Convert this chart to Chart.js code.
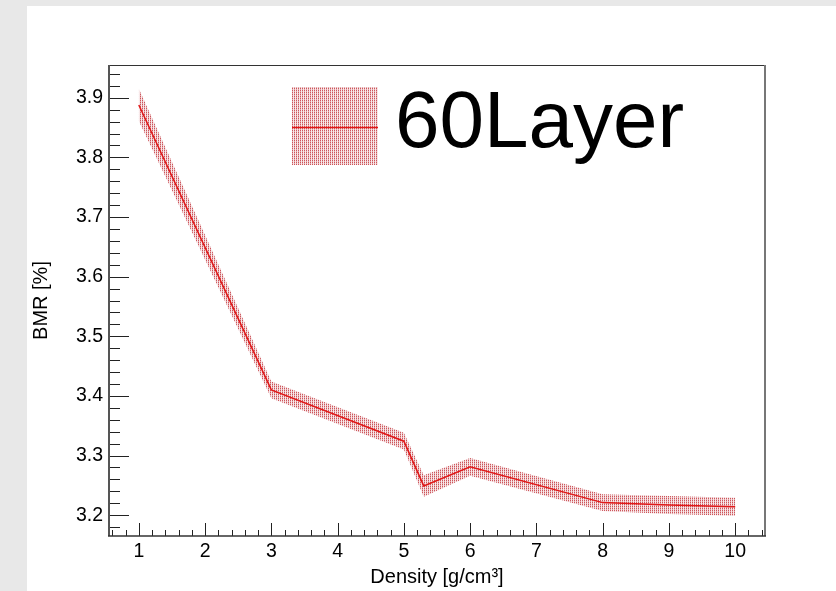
<!DOCTYPE html>
<html>
<head>
<meta charset="utf-8">
<script src="https://cdn.jsdelivr.net/npm/chart.js@4.4.0/dist/chart.umd.min.js"></script>
<style>
    html, body { margin: 0; padding: 0; background: #e8e8e8; }
    #chart { display: block; }
</style>
</head>
<body>
<canvas id="chart" width="836" height="591"></canvas>
<script>
// values
const densities = [1, 3, 5, 5.3, 6, 8, 9, 10];
const bmrValues = [3.888, 3.410, 3.324, 3.249, 3.281, 3.221, 3.217, 3.214];
const bmrErrors = [0.027, 0.014, 0.014, 0.018, 0.015, 0.014, 0.015, 0.015];
const xTicks = [1, 2, 3, 4, 5, 6, 7, 8, 9, 10];
const yTicks = [3.2, 3.3, 3.4, 3.5, 3.6, 3.7, 3.8, 3.9];
const legendLabel = "60Layer";

const FONT = "'Liberation Sans', Arial, Helvetica, sans-serif";
const canvas = document.getElementById("chart");
const ctx = canvas.getContext("2d");

// ROOT-like dotted fill
function makeHatch() {
    const c = document.createElement("canvas");
    c.width = 2;
    c.height = 2;
    const g = c.getContext("2d");
    g.fillStyle = "rgb(248,232,233)";
    g.fillRect(0, 0, 2, 2);
    g.fillStyle = "rgb(206,84,90)";
    g.fillRect(0, 0, 1, 1);
    g.fillStyle = "rgb(228,172,175)";
    g.fillRect(0, 1, 1, 1);
    return ctx.createPattern(c, "repeat");
}
const hatch = makeHatch();

const upper = densities.map((x, i) => ({ x: x, y: bmrValues[i] + bmrErrors[i] }));
const lower = densities.map((x, i) => ({ x: x, y: bmrValues[i] - bmrErrors[i] }));
const centre = densities.map((x, i) => ({ x: x, y: bmrValues[i] }));

// grey pad border + white canvas
const padBackground = {
    id: "padBackground",
    beforeDraw(chart) {
        const c = chart.ctx;
        c.save();
        c.fillStyle = "#e8e8e8";
        c.fillRect(0, 0, chart.width, chart.height);
        c.fillStyle = "#ffffff";
        c.fillRect(27, 6, chart.width - 27, chart.height - 6);
        c.restore();
    }
};

// frame and inward ticks, like ROOT
const rootAxes = {
    id: "rootAxes",
    afterDatasetsDraw(chart) {
        const c = chart.ctx;
        const a = chart.chartArea;
        const x = chart.scales.x;
        const y = chart.scales.y;
        c.save();
        c.strokeStyle = "#222";
        c.lineWidth = 1;
        c.beginPath();
        for (let k = 159; k <= 197; k++) {
            const p = Math.round(y.getPixelForValue(k * 0.02)) + 0.5;
            const len = k % 5 === 0 ? 20 : 11;
            c.moveTo(a.left, p);
            c.lineTo(a.left + len, p);
        }
        for (let k = 3; k <= 52; k++) {
            const p = Math.round(x.getPixelForValue(k * 0.2)) + 0.5;
            const len = k % 5 === 0 ? 13 : 6;
            c.moveTo(p, a.bottom);
            c.lineTo(p, a.bottom - len);
        }
        c.stroke();

        // frame
        c.strokeStyle = "#333";
        c.lineWidth = 1;
        c.beginPath();
        c.moveTo(a.left, a.top + 0.5);
        c.lineTo(a.right, a.top + 0.5);
        c.stroke();
        c.strokeStyle = "#777";
        c.lineWidth = 2;
        c.beginPath();
        c.moveTo(a.right, a.top);
        c.lineTo(a.right, a.bottom);
        c.stroke();
        c.strokeStyle = "#555";
        c.beginPath();
        c.moveTo(a.left, a.top);
        c.lineTo(a.left, a.bottom);
        c.stroke();
        c.strokeStyle = "#333";
        c.lineWidth = 1.5;
        c.beginPath();
        c.moveTo(a.left - 1, a.bottom);
        c.lineTo(a.right + 1, a.bottom);
        c.stroke();
        c.restore();
    }
};

// big legend entry
const bigLegend = {
    id: "bigLegend",
    afterDraw(chart) {
        const c = chart.ctx;
        c.save();
        c.fillStyle = hatch;
        c.fillRect(292, 87, 86, 78);
        c.strokeStyle = "#e01818";
        c.lineWidth = 1.5;
        c.beginPath();
        c.moveTo(292, 127.5);
        c.lineTo(378, 127.5);
        c.stroke();
        c.fillStyle = "#000";
        c.font = "80px " + FONT;
        c.textBaseline = "alphabetic";
        c.textAlign = "left";
        c.fillText(legendLabel, 395, 147);
        c.restore();
    }
};

new Chart(ctx, {
    type: "line",
    data: {
        datasets: [
            {
                label: legendLabel,
                data: centre,
                borderColor: "#e01818",
                borderWidth: 1.5,
                pointRadius: 0,
                tension: 0,
                fill: false
            },
            {
                label: "upper",
                data: upper,
                borderColor: "transparent",
                borderWidth: 0,
                pointRadius: 0,
                tension: 0,
                fill: "+1",
                backgroundColor: hatch
            },
            {
                label: "lower",
                data: lower,
                borderColor: "transparent",
                borderWidth: 0,
                pointRadius: 0,
                tension: 0,
                fill: false
            }
        ]
    },
    options: {
        responsive: false,
        animation: false,
        layout: { padding: { top: 65, right: 71, left: 0, bottom: 0 } },
        plugins: {
            legend: { display: false },
            tooltip: { enabled: false }
        },
        scales: {
            x: {
                type: "linear",
                min: 0.55,
                max: 10.45,
                grid: { display: false, drawTicks: false, tickLength: 0 },
                border: { display: false },
                afterBuildTicks: s => { s.ticks = xTicks.map(v => ({ value: v })); },
                afterFit: s => { s.height = 55; },
                ticks: {
                    color: "#000",
                    font: { family: FONT, size: 19.5 },
                    padding: 4,
                    maxRotation: 0,
                    autoSkip: false
                },
                title: {
                    display: true,
                    text: "Density [g/cm³]",
                    color: "#000",
                    font: { family: FONT, size: 20 },
                    padding: { top: 0, bottom: 1.5 }
                }
            },
            y: {
                type: "linear",
                min: 3.165,
                max: 3.955,
                grid: { display: false, drawTicks: false, tickLength: 0 },
                border: { display: false },
                afterBuildTicks: s => { s.ticks = yTicks.map(v => ({ value: v })); },
                afterFit: s => { s.width = 109; },
                ticks: {
                    color: "#000",
                    font: { family: FONT, size: 19.5 },
                    padding: 6,
                    callback: v => v.toFixed(1)
                },
                title: {
                    display: true,
                    text: "BMR [%]",
                    color: "#000",
                    font: { family: FONT, size: 20 },
                    padding: { top: 29, bottom: 0 }
                }
            }
        }
    },
    plugins: [padBackground, rootAxes, bigLegend]
});
</script>
</body>
</html>
